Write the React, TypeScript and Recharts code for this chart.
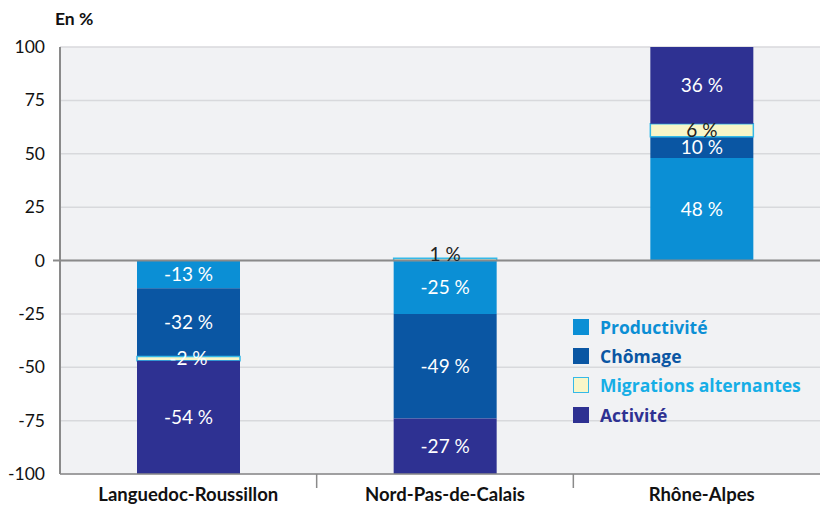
import React from 'react';
import { BarChart, Bar, XAxis, YAxis, CartesianGrid, ReferenceLine, LabelList } from 'recharts';

const categories = ['Languedoc-Roussillon', 'Nord-Pas-de-Calais', 'Rhône-Alpes'];
const productivite = [-13, -25, 48];
const chomage = [-32, -49, 10];
const migrations = [-2, 1, 6];
const activite = [-54, -27, 36];
const yTicks = [-100, -75, -50, -25, 0, 25, 50, 75, 100];

const series = [
  { key: 'productivite', name: 'Productivité', fill: '#0b8fd5', stroke: 'none', text: '#0b8fd5' },
  { key: 'chomage', name: 'Chômage', fill: '#0a56a3', stroke: 'none', text: '#0a56a3' },
  { key: 'migrations', name: 'Migrations alternantes', fill: '#f8f6c8', stroke: '#35b9e8', text: '#16aee6' },
  { key: 'activite', name: 'Activité', fill: '#2e3192', stroke: 'none', text: '#2e3192' },
];

const data = categories.map((c, i) => ({
  name: c,
  productivite: productivite[i],
  chomage: chomage[i],
  migrations: migrations[i],
  activite: activite[i],
}));

const FONT = 'Lato, "Open Sans", sans-serif';

const XTick = (props: any) => {
  const { x, y, payload, index } = props;
  const half = payload && payload.offset ? payload.offset : 128;
  return (
    <g>
      <text x={x} y={y + 27} textAnchor="middle" fontFamily={FONT} fontWeight={700} fontSize={18.5} fill="#111">
        {payload.value}
      </text>
      {index < categories.length - 1 && (
        <line x1={x + half} x2={x + half} y1={y} y2={y + 14} stroke="#8a8a8a" strokeWidth={1.5} />
      )}
    </g>
  );
};

const YTick = (props: any) => {
  const { x, y, payload } = props;
  return (
    <g>
      <text x={x} y={y + 6} textAnchor="end" fontFamily={FONT} fontSize={17.5} fill="#111">
        {payload.value}
      </text>
      {payload.value === 0 && <line x1={x + 8} x2={x + 15} y1={y} y2={y} stroke="#8a8a8a" strokeWidth={2} />}
    </g>
  );
};

const makeLabel = (isMigr: boolean) => (props: any) => {
  const { x, y, width, height, value } = props;
  if (value === undefined || value === null) return null;
  const h = Number(height);
  const top = Math.min(Number(y), Number(y) + h);
  const absH = Math.abs(h);
  const cx = Number(x) + Number(width) / 2;
  let ty = top + absH / 2 + 6.5;
  if (value > 0 && absH < 8) {
    ty = top + 3;
  }
  const color = isMigr && value > 0 ? '#222222' : '#ffffff';
  return (
    <text x={cx} y={ty} textAnchor="middle" fontFamily={FONT} fontSize={19} fill={color}>
      {`${value} %`}
    </text>
  );
};

const LegendBox = () => (
  <div style={{ position: 'absolute', left: 573, top: 312, fontFamily: '"Open Sans", Lato, sans-serif' }}>
    {series.map((s) => (
      <div key={s.key} style={{ display: 'flex', alignItems: 'center', height: 29.3 }}>
        <div
          style={{
            width: s.stroke === 'none' ? 16 : 14,
            height: s.stroke === 'none' ? 16 : 14,
            background: s.fill,
            border: s.stroke === 'none' ? 'none' : `1px solid ${s.stroke}`,
            marginRight: 11,
            flexShrink: 0,
          }}
        />
        <span style={{ color: s.text, fontWeight: 700, fontSize: 17.5, whiteSpace: 'nowrap' }}>{s.name}</span>
      </div>
    ))}
  </div>
);

export default function App() {
  return (
    <div style={{ position: 'absolute', left: 0, top: 0, width: 820, height: 506, overflow: 'hidden', background: '#fff' }}>
      <div style={{ position: 'absolute', left: 55, top: 8, fontFamily: FONT, fontWeight: 700, fontSize: 17.5, color: '#111' }}>
        En %
      </div>
      <BarChart
        width={830}
        height={506}
        data={data}
        stackOffset="sign"
        margin={{ top: 47, right: 0, bottom: 0, left: 0 }}
        barSize={103}
      >
        <CartesianGrid vertical={false} stroke="#d8d9dc" strokeWidth={1.5} fill="#f1f2f4" />
        <XAxis
          dataKey="name"
          axisLine={{ stroke: '#8a8a8a', strokeWidth: 1.5 }}
          tickLine={false}
          tickSize={0}
          tickMargin={0}
          tick={<XTick />}
          interval={0}
          height={32}
        />
        <YAxis
          domain={[-100, 100]}
          ticks={yTicks}
          allowDataOverflow
          width={60}
          axisLine={{ stroke: '#8a8a8a', strokeWidth: 2 }}
          tickLine={false}
          tickSize={8}
          tickMargin={7}
          tick={<YTick />}
          interval={0}
        />
        {series.map((s) => (
          <Bar
            key={s.key}
            dataKey={s.key}
            name={s.name}
            stackId="a"
            fill={s.fill}
            stroke={s.stroke}
            strokeWidth={s.stroke === 'none' ? 0 : 1.5}
            isAnimationActive={false}
          >
            <LabelList dataKey={s.key} content={makeLabel(s.key === 'migrations')} />
          </Bar>
        ))}
        <ReferenceLine y={0} stroke="#8a8a8a" strokeWidth={2} />
      </BarChart>
      <LegendBox />
    </div>
  );
}
